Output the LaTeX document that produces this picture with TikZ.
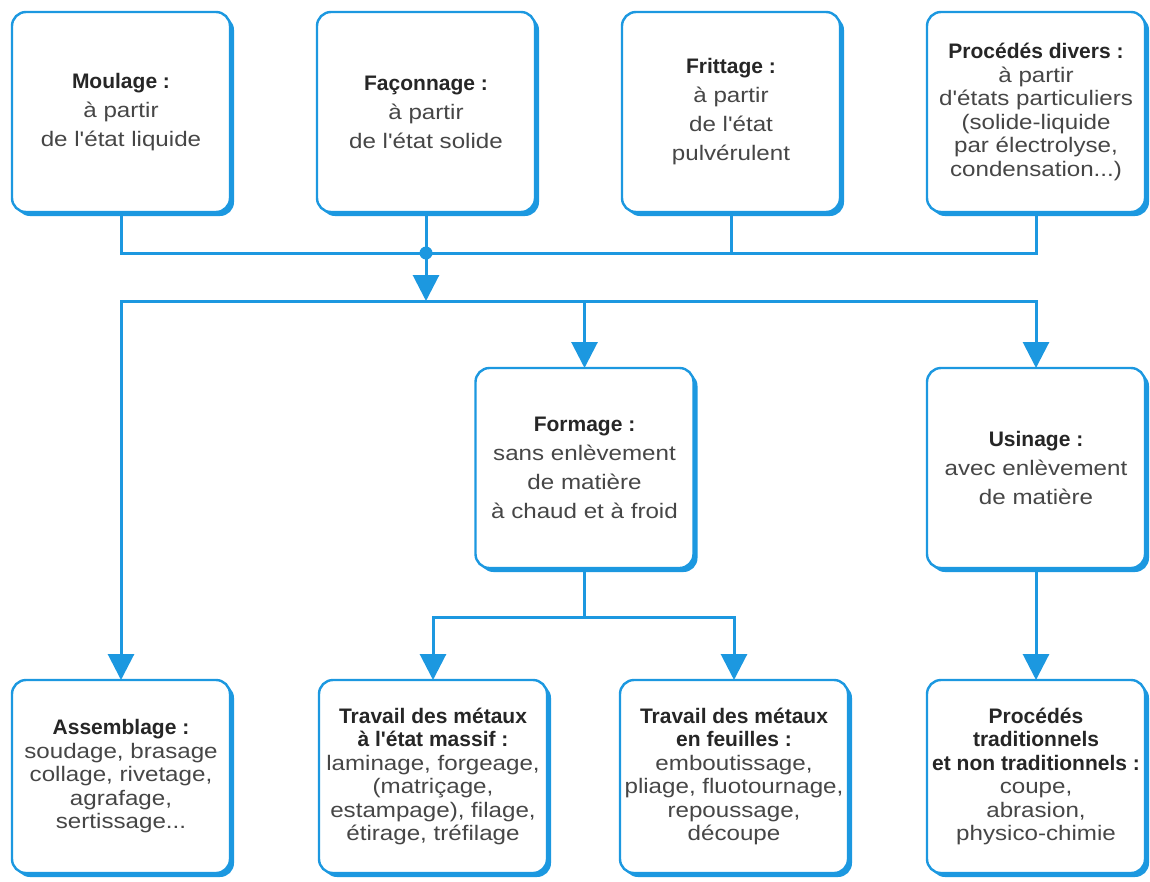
\documentclass[tikz,border=0pt]{standalone}
\usepackage{fontspec}
\usepackage{xcolor}
\usepackage{tikz}
\usetikzlibrary{arrows.meta, positioning, shadows, calc}
\newfontfamily\bodyfont[FakeStretch=1.15]{Liberation Sans}
\newfontfamily\headfont[FakeStretch=1.0]{Liberation Sans}
\definecolor{procblue}{RGB}{28,152,224}
\definecolor{textgrey}{RGB}{70,70,70}
\definecolor{titlegrey}{RGB}{38,38,38}
\newcommand{\ttl}[1]{{\headfont\bfseries\color{titlegrey}#1}}
\tikzset{
    box/.style={rectangle, rounded corners=14pt, minimum width=218pt, minimum height=200pt,
                draw=procblue, line width=2.4pt, fill=white, outer sep=0pt, inner sep=2pt,
                align=center, text=textgrey,
                drop shadow={shadow xshift=4pt, shadow yshift=-4pt, fill=procblue, opacity=1},
                font=\bodyfont\fontsize{21}{29}\selectfont},
    dense/.style={font=\bodyfont\fontsize{21}{23.5}\selectfont},
    link/.style={line width=3pt, procblue, line cap=rect},
    arrow/.style={link, -{Triangle[length=26pt,width=26pt]}}
}

\begin{document}
\begin{tikzpicture}[x=1pt, y=1pt]
    \useasboundingbox (0,0) rectangle (1150,-881);

    % Starting states
    \node[box] (moulage) at (121,-112) {\ttl{Moulage :}\\à partir\\de l'état liquide};
    \node[box, right=87pt of moulage] (faconnage) {\ttl{Façonnage :}\\à partir\\de l'état solide};
    \node[box, right=87pt of faconnage] (frittage) {\ttl{Frittage :}\\à partir\\de l'état\\pulvérulent};
    \node[box, dense, right=87pt of frittage] (divers) {\ttl{Procédés divers :}\\à partir\\d'états particuliers\\(solide-liquide\\par électrolyse,\\condensation...)};

    % Shaping
    \node[box, below=156pt of divers] (usinage) {\ttl{Usinage :}\\avec enlèvement\\de matière};
    \coordinate (mid) at ($(faconnage)!0.5!(frittage)$);
    \node[box, xshift=6pt] (formage) at (mid |- usinage) {\ttl{Formage :}\\sans enlèvement\\de matière\\à chaud et à froid};

    % Processes
    \node[box, dense, minimum height=193pt, below=468pt of moulage] (assemblage) {\ttl{Assemblage :}\\soudage, brasage\\collage, rivetage,\\agrafage,\\sertissage...};
    \node[box, dense, minimum width=228pt, minimum height=193pt, below=468pt of faconnage, xshift=7pt] (massif) {\ttl{Travail des métaux}\\\ttl{à l'état massif :}\\laminage, forgeage,\\(matriçage,\\estampage), filage,\\étirage, tréfilage};
    \node[box, dense, minimum width=228pt, minimum height=193pt, below=468pt of frittage, xshift=3pt] (feuilles) {\ttl{Travail des métaux}\\\ttl{en feuilles :}\\emboutissage,\\pliage, fluotournage,\\repoussage,\\découpe};
    \node[box, dense, minimum height=193pt, below=468pt of divers] (trad) {\ttl{Procédés}\\\ttl{traditionnels}\\\ttl{et non traditionnels :}\\coupe,\\abrasion,\\physico-chimie};

    % Connectors
    \coordinate (hub) at ($(faconnage.south)+(0,-41pt)$);
    \coordinate (hubb) at ($(hub)+(0,-48pt)$);
    \coordinate (split) at ($(formage.south)+(0,-49pt)$);
    \draw[link] (moulage.south) |- (hub) -| (divers.south);
    \draw[link] (faconnage.south) -- (hub);
    \draw[link] (frittage.south) -- (frittage.south |- hub);
    \fill[procblue] (hub) circle (6.5pt);
    \draw[arrow] (hub) -- (hubb);
    \draw[arrow] (usinage.north |- hubb) -| (assemblage.north);
    \draw[arrow] (formage.north |- hubb) -- (formage.north);
    \draw[arrow] (usinage.north |- hubb) -- (usinage.north);
    \draw[arrow] (formage.south) |- (split) -| (massif.north);
    \draw[arrow] (split) -| (feuilles.north);
    \draw[arrow] (usinage.south) -- (trad.north);
\end{tikzpicture}
\end{document}
